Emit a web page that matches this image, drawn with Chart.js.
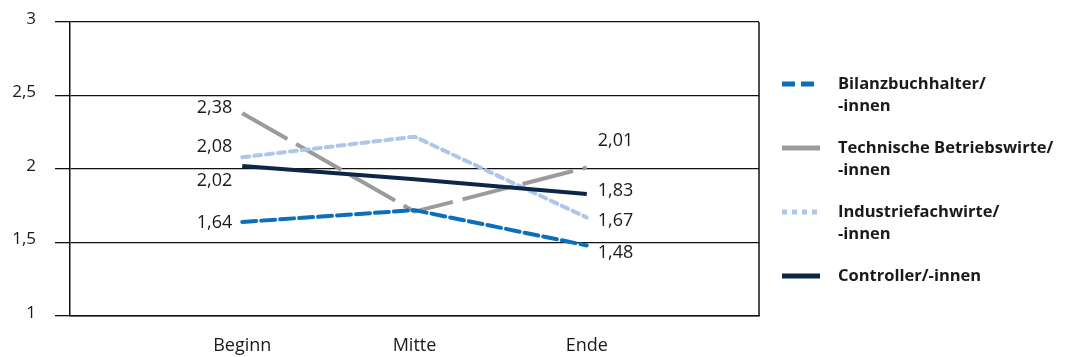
<!DOCTYPE html>
<html>
<head>
<meta charset="utf-8">
<script src="https://cdn.jsdelivr.net/npm/chart.js@4/dist/chart.umd.min.js"></script>
<style>
  html, body { margin: 0; padding: 0; background: #fff; }
  #wrap { width: 1068px; height: 357px; position: relative; }
</style>
</head>
<body>
<div id="wrap"><canvas id="c"></canvas></div>
<script>
// Phasen und Durchschnittswerte je Fortbildungsabschluss
const categories = ['Beginn', 'Mitte', 'Ende'];
const seriesNames = [
  ['Bilanzbuchhalter/', '-innen'],
  ['Technische Betriebswirte/', '-innen'],
  ['Industriefachwirte/', '-innen'],
  ['Controller/-innen']
];
const bilanzbuchhalter        = [1.64, 1.72, 1.48];
const technischeBetriebswirte = [2.38, 1.71, 2.01];
const industriefachwirte      = [2.08, 2.22, 1.67];
const controller              = [2.02, 1.93, 1.83];
const yTicks = [1, 1.5, 2, 2.5, 3];

// Vertikale Verschiebung der Wertebeschriftungen (Beginn, Ende) in px
const labelShift = [
  [1, 7],
  [-5, -27],
  [-10, 3],
  [15, -3]
];

const FONT = '"Open Sans", "Noto Sans", sans-serif';
const fmt = v => v.toLocaleString('de-DE', { minimumFractionDigits: 0, maximumFractionDigits: 2 });

// eine leere Position links und rechts der drei Phasen
const pad = arr => [null, ...arr, null];
const labels = ['', ...categories, ''];

const styles = [
  { color: '#0b6fbb', dash: [14, 5], cap: 'round', legendDash: [13, 6], order: 1 },
  { color: '#9b9b9b', dash: [52, 10], cap: 'butt', legendDash: [], order: 3 },
  { color: '#aec6e8', dash: [7, 5], cap: 'round', legendDash: [5, 5], order: 2 },
  { color: '#0b2647', dash: [], cap: 'butt', legendDash: [], order: 0 }
];
const values = [bilanzbuchhalter, technischeBetriebswirte, industriefachwirte, controller];

const datasets = values.map((vals, i) => ({
  label: seriesNames[i].join(' '),
  data: pad(vals),
  borderColor: styles[i].color,
  borderDash: styles[i].dash,
  borderCapStyle: styles[i].cap,
  borderJoinStyle: 'round',
  borderWidth: 4,
  pointRadius: 0,
  tension: 0,
  fill: false,
  order: styles[i].order,
  legendDash: styles[i].legendDash
}));

const frame = {
  id: 'frame',
  afterDraw(chart) {
    const { ctx, chartArea: a } = chart;
    ctx.save();
    ctx.strokeStyle = '#111';
    ctx.lineWidth = 1.5;
    ctx.beginPath();
    ctx.moveTo(a.right, a.top);
    ctx.lineTo(a.right, a.bottom);
    ctx.stroke();
    ctx.restore();
  }
};

const valueLabels = {
  id: 'valueLabels',
  afterDatasetsDraw(chart) {
    const { ctx } = chart;
    ctx.save();
    ctx.font = '18px ' + FONT;
    ctx.fillStyle = '#1a1a1a';
    ctx.textBaseline = 'middle';
    chart.data.datasets.forEach((ds, i) => {
      const meta = chart.getDatasetMeta(i);
      const first = meta.data[1], last = meta.data[3];
      ctx.textAlign = 'right';
      ctx.fillText(fmt(ds.data[1]), first.x - 10, first.y + labelShift[i][0]);
      ctx.textAlign = 'left';
      ctx.fillText(fmt(ds.data[3]), last.x + 11, last.y + labelShift[i][1]);
    });
    ctx.restore();
  }
};

const sideLegend = {
  id: 'sideLegend',
  afterDraw(chart) {
    const { ctx, chartArea: a } = chart;
    const x0 = a.right + 23, x1 = x0 + 38, tx = x1 + 18;
    ctx.save();
    chart.data.datasets.forEach((ds, i) => {
      const y = 84 + i * 64;
      ctx.strokeStyle = ds.borderColor;
      ctx.lineWidth = 5;
      ctx.setLineDash(ds.legendDash);
      ctx.beginPath();
      ctx.moveTo(x0, y);
      ctx.lineTo(x1, y);
      ctx.stroke();
      ctx.setLineDash([]);
      ctx.font = 'bold 16.5px ' + FONT;
      ctx.fillStyle = '#1a1a1a';
      ctx.textAlign = 'left';
      ctx.textBaseline = 'middle';
      seriesNames[i].forEach((line, k) => ctx.fillText(line, tx, y + k * 22));
    });
    ctx.restore();
  }
};

new Chart(document.getElementById('c'), {
  type: 'line',
  data: { labels, datasets },
  plugins: [frame, valueLabels, sideLegend],
  options: {
    responsive: true,
    maintainAspectRatio: false,
    animation: false,
    spanGaps: false,
    layout: { padding: { left: 0, right: 309, top: 22, bottom: 0 } },
    plugins: { legend: { display: false }, tooltip: { enabled: false } },
    scales: {
      x: {
        grid: { display: false, drawTicks: false },
        border: { display: true, color: '#111', width: 1.5 },
        ticks: { padding: 19, color: '#1a1a1a', font: { family: FONT, size: 18 }, maxRotation: 0, autoSkip: false },
        afterFit(s) { s.height = 41; }
      },
      y: {
        min: 1, max: 3,
        afterBuildTicks(s) { s.ticks = yTicks.map(v => ({ value: v })); },
        ticks: {
          padding: 19, labelOffset: -3, color: '#1a1a1a',
          font: { family: FONT, size: 17 },
          callback: v => fmt(v)
        },
        grid: { color: '#111', lineWidth: 1.3, tickLength: 15, drawTicks: true },
        border: { display: true, color: '#111', width: 1.5 },
        afterFit(s) { s.width = 70; s.paddingTop = 0; s.paddingBottom = 0; }
      }
    }
  }
});
</script>
</body>
</html>
